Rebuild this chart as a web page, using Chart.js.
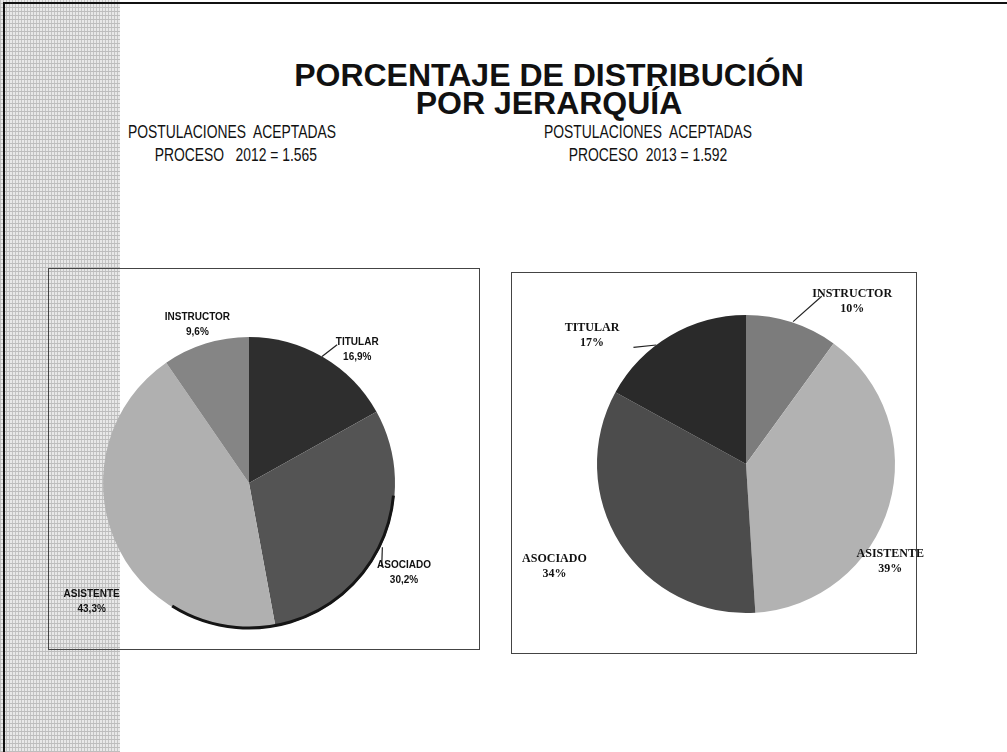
<!DOCTYPE html>
<html>
<head>
<meta charset="utf-8">
<script src="https://cdn.jsdelivr.net/npm/chart.js@4.4.1/dist/chart.umd.min.js"></script>
<style>
  body { margin: 0; background: #fff; }
  #page { position: relative; width: 1007px; height: 752px; overflow: hidden; background: #fff; }
  #stripe {
    position: absolute; left: 0; top: 0; width: 120px; height: 752px;
    background-color: #e8e8e8;
    background-image:
      repeating-linear-gradient(0deg, #bdbdbd 0 1px, transparent 1px 4px),
      repeating-linear-gradient(90deg, #c4c4c4 0 1px, transparent 1px 3px);
  }
  #edgeLeft { position: absolute; left: 3px; top: 2px; width: 2px; height: 750px; background: #111; }
  #edgeTop { position: absolute; left: 3px; top: 2px; width: 1004px; height: 2px; background: #111; }
  .title {
    position: absolute; left: 114px; width: 870px; text-align: center;
    font-family: "Liberation Sans", Arial, sans-serif; font-weight: bold;
    font-size: 32px; color: #111; line-height: 28px; top: 61px;
  }
  .sub {
    position: absolute; text-align: center; white-space: nowrap;
    font-family: "Liberation Sans", Arial, sans-serif;
    font-size: 19px; color: #111; line-height: 23px; top: 120px;
    width: 320px; transform: scaleX(0.73); transform-origin: 160px 0;
  }
  .box { position: absolute; border: 1px solid #444; }
  canvas { position: absolute; }
</style>
</head>
<body>
<div id="page">
  <div id="stripe"></div>
  <div id="edgeLeft"></div>
  <div id="edgeTop"></div>
  <div class="title">PORCENTAJE DE DISTRIBUCIÓN<br>POR JERARQUÍA</div>
  <div class="sub" style="left:72px;">POSTULACIONES&nbsp; ACEPTADAS<br>&nbsp;&nbsp;PROCESO &nbsp; 2012 = 1.565</div>
  <div class="sub" style="left:488px;">POSTULACIONES&nbsp; ACEPTADAS<br>PROCESO&nbsp; 2013 = 1.592</div>
  <div class="box" style="left:48px;top:268px;width:430px;height:380px;"></div>
  <div class="box" style="left:511px;top:272px;width:404px;height:380px;"></div>
  <canvas id="pie2012" style="left:48px;top:268px;"></canvas>
  <canvas id="pie2013" style="left:511px;top:272px;"></canvas>
</div>
<script>
// 2012 (clockwise from 12 o'clock)
const cats2012 = ['TITULAR', 'ASOCIADO', 'ASISTENTE', 'INSTRUCTOR'];
const vals2012 = [16.9, 30.2, 43.3, 9.6];
const cols2012 = ['#2e2e2e', '#545454', '#b0b0b0', '#858585'];

// 2013 (clockwise from 12 o'clock)
const cats2013 = ['INSTRUCTOR', 'ASISTENTE', 'ASOCIADO', 'TITULAR'];
const vals2013 = [10, 39, 34, 17];
const cols2013 = ['#7c7c7c', '#b2b2b2', '#4c4c4c', '#2a2a2a'];

// label spots: [angle from top in degrees, distance from centre]
const spots2012 = [[39, 172], [120, 179], [233, 197], [342, 167]];
const spots2013 = [[33, 195], [124, 174], [242, 217], [310, 201]];
// leader lines: [start angle, start dist, end angle, end dist] or null
const leaders2012 = [[30, 146, 32.5, 164], [115.7, 148, 122.3, 157], null, null];
const leaders2013 = [[18.3, 150, 24.3, 184], null, null, [323, 149, 316, 162]];

function polar(cx, cy, deg, d) {
    const a = (deg - 90) * Math.PI / 180;
    return [cx + Math.cos(a) * d, cy + Math.sin(a) * d];
}

function labelPlugin(spots, leaders, fmt, font, rim) {
    return {
        id: 'sliceLabels',
        afterDraw(chart) {
            const ctx = chart.ctx;
            const arc = chart.getDatasetMeta(0).data[0];
            const cx = arc.x, cy = arc.y, r = arc.outerRadius;
            const labels = chart.data.labels;
            const values = chart.data.datasets[0].data;
            ctx.save();
            if (rim) {
                // dark lower rim of the tilted 2012 pie
                ctx.beginPath();
                ctx.strokeStyle = '#151515';
                ctx.lineWidth = 3;
                ctx.arc(cx, cy, r - 1, (rim[0] - 90) * Math.PI / 180, (rim[1] - 90) * Math.PI / 180);
                ctx.stroke();
            }
            ctx.fillStyle = '#111';
            ctx.strokeStyle = '#222';
            ctx.lineWidth = 1.2;
            ctx.font = font;
            ctx.textAlign = 'center';
            ctx.textBaseline = 'middle';
            labels.forEach((lab, i) => {
                const ld = leaders[i];
                if (ld) {
                    const p1 = polar(cx, cy, ld[0], ld[1]);
                    const p2 = polar(cx, cy, ld[2], ld[3]);
                    ctx.beginPath();
                    ctx.moveTo(p1[0], p1[1]);
                    ctx.lineTo(p2[0], p2[1]);
                    ctx.stroke();
                }
                const p = polar(cx, cy, spots[i][0], spots[i][1]);
                ctx.fillText(lab, p[0], p[1] - 7);
                ctx.fillText(fmt(values[i]), p[0], p[1] + 8);
            });
            ctx.restore();
        }
    };
}

function makePie(id, cats, vals, cols, padding, plugin) {
    const el = document.getElementById(id);
    return new Chart(el, {
        type: 'pie',
        data: {
            labels: cats,
            datasets: [{
                data: vals,
                backgroundColor: cols,
                borderWidth: 0
            }]
        },
        options: {
            responsive: false,
            animation: false,
            layout: { padding: padding },
            plugins: {
                legend: { display: false },
                tooltip: { enabled: false }
            }
        },
        plugins: [plugin]
    });
}

const c1 = document.getElementById('pie2012');
c1.width = 430; c1.height = 380;
const c2 = document.getElementById('pie2013');
c2.width = 420; c2.height = 380;

makePie('pie2012', cats2012, vals2012, cols2012,
    { left: 55, right: 83, top: 69, bottom: 19 },
    labelPlugin(spots2012, leaders2012, v => v.toFixed(1).replace('.', ',') + '%',
        'bold 10px "Liberation Sans", sans-serif', [95, 212]));

makePie('pie2013', cats2013, vals2013, cols2013,
    { left: 86, right: 36, top: 43, bottom: 39 },
    labelPlugin(spots2013, leaders2013, v => v + '%',
        'bold 12px "Liberation Serif", serif', null));
</script>
</body>
</html>
